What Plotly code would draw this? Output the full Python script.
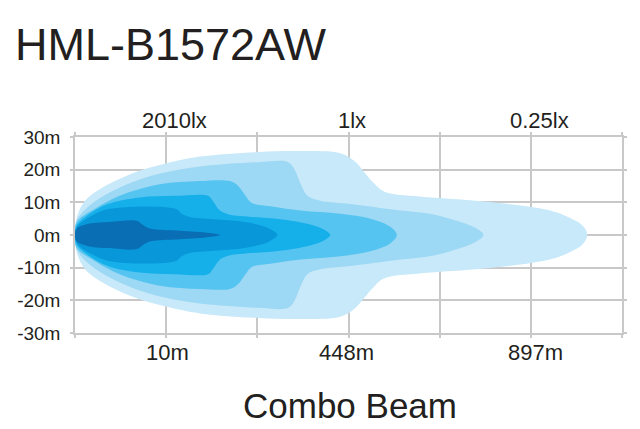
import plotly.graph_objects as go

# ---------------- data ----------------
title_text = "HML-B1572AW"
subtitle_text = "Combo Beam"
y_tick_vals = [30, 20, 10, 0, -10, -20, -30]
y_tick_text = ["30m", "20m", "10m", "0m", "-10m", "-20m", "-30m"]
grid_x = [0, 1, 2, 3, 4, 5, 6]
lux_labels = ["2010lx", "1lx", "0.25lx"]
dist_labels = ["10m", "448m", "897m"]

# beam layers: distance along axis (grid units) and half-width (m), outermost first
l1_x = [0, 0.02, 0.11, 0.27, 0.64, 1.01, 1.37, 2.01, 2.47, 2.91, 3.07, 3.18, 3.29, 3.40, 3.78, 4.52, 5.24, 5.48, 5.57, 5.62]
l1_hw = [0, 5.5, 10.5, 14, 19, 22, 24, 25.4, 25.7, 25, 22.5, 19, 15.5, 13.2, 11.8, 10.2, 7.3, 4.5, 2.8, 0]
l2_x = [0, 0.02, 0.16, 0.38, 0.71, 1.01, 1.37, 2.01, 2.34, 2.41, 2.47, 2.55, 2.69, 3.02, 3.57, 3.89, 4.17, 4.39, 4.48]
l2_hw = [0, 4.5, 9, 13, 17, 19.3, 21, 22.3, 22.3, 20, 16, 12, 10.5, 9.5, 7.5, 6.5, 4.5, 2.2, 0]
l3_x = [0, 0.02, 0.22, 0.49, 0.93, 1.37, 1.70, 1.79, 1.87, 1.94, 2.14, 2.47, 2.91, 3.24, 3.46, 3.53]
l3_hw = [0, 4, 8, 12, 15.5, 16.5, 16.5, 15, 12, 9.8, 8.8, 7.5, 6.5, 5, 2.5, 0]
l4_x = [0, 0.02, 0.16, 0.36, 0.71, 1.10, 1.46, 1.51, 1.59, 1.70, 1.81, 2.25, 2.58, 2.74, 2.80]
l4_hw = [0, 3, 6.5, 9.5, 11.5, 12, 12, 10.5, 7.5, 6.2, 5.8, 4.8, 3.2, 1.5, 0]
l5_x = [0, 0.02, 0.16, 0.38, 1.10, 1.17, 1.26, 1.81, 2.03, 2.14, 2.22]
l5_hw = [0, 2.5, 5.5, 8, 8, 6.5, 5.5, 4.2, 3, 1.8, 0]
l6_x = [0, 0.02, 0.16, 0.38, 0.68, 0.75, 0.82, 1.15, 1.48, 1.59]
l6_hw = [0, 2, 3.5, 4, 4.3, 3, 2, 1.3, 0.6, 0]

layer_colors = ["#c8e9f9", "#9dd8f4", "#55c4f0", "#15afea", "#0897d9", "#0a6eb4"]

# ---------------- figure ----------------
fig = go.Figure()
layers = [(l1_x, l1_hw), (l2_x, l2_hw), (l3_x, l3_hw), (l4_x, l4_hw), (l5_x, l5_hw), (l6_x, l6_hw)]
for (xs, hw), col in zip(layers, layer_colors):
    px_ = list(xs) + list(reversed(xs[:-1]))
    py_ = list(hw) + [-h for h in reversed(hw[:-1])]
    fig.add_trace(go.Scatter(
        x=px_, y=py_, mode="lines", fill="toself", fillcolor=col,
        line=dict(width=0, shape="spline", smoothing=1.0, color=col),
        hoverinfo="skip", showlegend=False,
    ))

grid_col = "#c8c8c8"
font_main = "Liberation Sans, Arial, sans-serif"
txt_col = "#231f20"

fig.update_layout(
    width=640, height=429,
    margin=dict(l=75, r=18, t=137, b=96),
    paper_bgcolor="white", plot_bgcolor="white",
    font=dict(family=font_main, color=txt_col),
    xaxis=dict(range=[0, 6], tickvals=grid_x, showticklabels=False,
               showgrid=True, gridcolor=grid_col, gridwidth=1.5,
               zeroline=False, showline=True, linecolor=grid_col, linewidth=1.5,
               mirror="ticks", ticks="outside", ticklen=3, tickcolor=grid_col, tickwidth=1.5),
    yaxis=dict(range=[-30, 30], tickvals=y_tick_vals, ticktext=y_tick_text,
               showgrid=True, gridcolor=grid_col, gridwidth=1.5,
               zeroline=False, showline=True, linecolor=grid_col, linewidth=1.5,
               mirror="ticks", ticks="outside", ticklen=3, tickcolor=grid_col, tickwidth=1.5,
               ticklabelstandoff=6,
               tickfont=dict(size=19, color=txt_col, family=font_main)),
)

annos = []
annos.append(dict(text=title_text, xref="paper", yref="paper", x=(13 - 75) / 547, y=(333 - 44) / 196,
                  xanchor="left", yanchor="middle", showarrow=False,
                  font=dict(size=45, family=font_main, color=txt_col)))
for lab, xv in zip(lux_labels, [1.09, 3.04, 5.09]):
    annos.append(dict(text=lab, xref="x", yref="paper", x=xv, y=(333 - 121) / 196,
                      xanchor="center", yanchor="middle", showarrow=False,
                      font=dict(size=22, color=txt_col)))
for lab, xv in zip(dist_labels, [1.02, 2.98, 5.05]):
    annos.append(dict(text=lab, xref="x", yref="paper", x=xv, y=(333 - 352) / 196,
                      xanchor="center", yanchor="middle", showarrow=False,
                      font=dict(size=22, color=txt_col)))
annos.append(dict(text=subtitle_text, xref="paper", yref="paper", x=(350 - 75) / 547, y=(333 - 405) / 196,
                  xanchor="center", yanchor="middle", showarrow=False,
                  font=dict(size=35, color=txt_col)))
fig.update_layout(annotations=annos)

fig.write_html("out.html")
